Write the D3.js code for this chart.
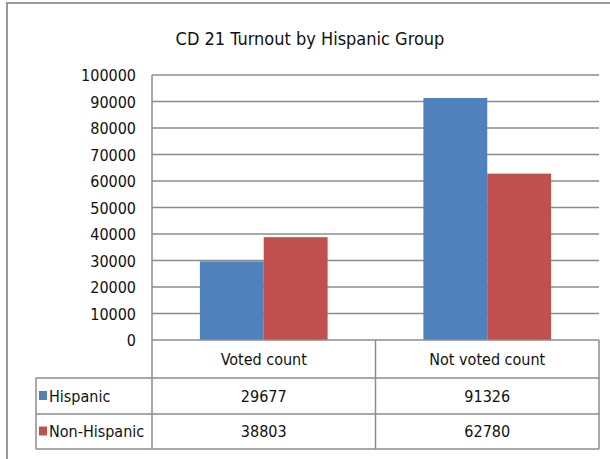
<!DOCTYPE html>
<html>
<head>
<meta charset="utf-8">
<script src="https://cdn.jsdelivr.net/npm/d3@7"></script>
<style>
  body { margin: 0; background: #fff; }
  text { font-family: "DejaVu Sans Condensed", "DejaVu Sans", sans-serif; font-stretch: condensed; fill: #111; }
</style>
</head>
<body>
<script>
// data
let categories = ["Voted count", "Not voted count"];
let seriesNames = ["Hispanic", "Non-Hispanic"];
let hispanic = [29677, 91326];
let nonHispanic = [38803, 62780];
let yTicks = [0, 10000, 20000, 30000, 40000, 50000, 60000, 70000, 80000, 90000, 100000];
let colors = ["#4F81BD", "#C0504D"];

let W = 610, H = 459;
let plot = {left: 152, right: 599, top: 75, bottom: 340};
let rowY = [340, 378, 414, 449];
let tableLeft = 36;

let svg = d3.select("body").append("svg")
  .attr("width", W)
  .attr("height", H);

// outer frame (only top and left show)
svg.append("path")
  .attr("d", `M7,${H} L7,3 L${W},3`)
  .attr("fill", "none")
  .attr("stroke", "#9a9a9a")
  .attr("stroke-width", 2);

// title
svg.append("text")
  .attr("x", 310)
  .attr("y", 45)
  .attr("text-anchor", "middle")
  .style("font-size", "18px")
  .text("CD 21 Turnout by Hispanic Group");

// scales
let x = d3.scaleBand()
  .domain(categories)
  .range([plot.left, plot.right]);

let xSub = d3.scaleBand()
  .domain(seriesNames)
  .range([0, x.bandwidth()])
  .paddingInner(0)
  .paddingOuter(0.75);

let y = d3.scaleLinear()
  .domain([0, 100000])
  .range([plot.bottom, plot.top]);

// gridlines
svg.append("g")
  .selectAll("line")
  .data(yTicks.filter(d => d > 0))
  .join("line")
  .attr("x1", plot.left)
  .attr("x2", plot.right)
  .attr("y1", d => y(d))
  .attr("y2", d => y(d))
  .attr("stroke", "#8c8c8c")
  .attr("stroke-width", 1.5);

// y axis labels
let yAxis = svg.append("g")
  .attr("transform", `translate(${plot.left},0)`)
  .call(d3.axisLeft(y).tickValues(yTicks).tickSize(0).tickPadding(16).tickFormat(d3.format("d")));
yAxis.select(".domain").remove();
yAxis.selectAll("text")
  .style("font-size", "16px")
  .style("font-family", null)
  .attr("dy", "0.35em");

// bars
let table = categories.map((c, i) => ({cat: c, vals: [hispanic[i], nonHispanic[i]]}));

svg.append("g")
  .selectAll("g")
  .data(table)
  .join("g")
  .attr("transform", d => `translate(${x(d.cat)},0)`)
  .selectAll("rect")
  .data(d => d.vals.map((v, j) => ({name: seriesNames[j], value: v, j: j})))
  .join("rect")
  .attr("x", d => xSub(d.name))
  .attr("width", xSub.bandwidth())
  .attr("y", d => y(d.value))
  .attr("height", d => y(0) - y(d.value))
  .attr("fill", d => colors[d.j]);

// data table lines
let lines = svg.append("g")
  .attr("stroke", "#8c8c8c")
  .attr("stroke-width", 1.5)
  .attr("fill", "none");

// vertical axis line down into table
lines.append("line")
  .attr("x1", plot.left).attr("x2", plot.left)
  .attr("y1", plot.top).attr("y2", rowY[3]);
lines.append("line")
  .attr("x1", x.range()[0] + x.step()).attr("x2", x.range()[0] + x.step())
  .attr("y1", rowY[0]).attr("y2", rowY[3]);
lines.append("line")
  .attr("x1", plot.right).attr("x2", plot.right)
  .attr("y1", rowY[0]).attr("y2", rowY[3]);
lines.append("line")
  .attr("x1", tableLeft).attr("x2", tableLeft)
  .attr("y1", rowY[1]).attr("y2", rowY[3]);
lines.append("line")
  .attr("x1", plot.left).attr("x2", plot.right)
  .attr("y1", rowY[0]).attr("y2", rowY[0]);
rowY.slice(1).forEach(ry => {
  lines.append("line")
    .attr("x1", tableLeft).attr("x2", plot.right)
    .attr("y1", ry).attr("y2", ry);
});

// category header
svg.append("g")
  .selectAll("text")
  .data(categories)
  .join("text")
  .attr("x", d => x(d) + x.bandwidth() / 2)
  .attr("y", (rowY[0] + rowY[1]) / 2)
  .attr("dy", "0.35em")
  .attr("text-anchor", "middle")
  .style("font-size", "16px")
  .text(d => d);

// series rows
let seriesRows = [hispanic, nonHispanic];
seriesRows.forEach((vals, j) => {
  let cy = (rowY[j + 1] + rowY[j + 2]) / 2;
  svg.append("rect")
    .attr("x", 39)
    .attr("y", cy - 5)
    .attr("width", 8)
    .attr("height", 9)
    .attr("fill", colors[j]);
  svg.append("text")
    .attr("x", 49)
    .attr("y", cy)
    .attr("dy", "0.35em")
    .style("font-size", "16px")
    .text(seriesNames[j]);
  svg.append("g")
    .selectAll("text")
    .data(vals)
    .join("text")
    .attr("x", (d, i) => x(categories[i]) + x.bandwidth() / 2)
    .attr("y", cy)
    .attr("dy", "0.35em")
    .attr("text-anchor", "middle")
    .style("font-size", "16px")
    .text(d => d);
});
</script>
</body>
</html>
